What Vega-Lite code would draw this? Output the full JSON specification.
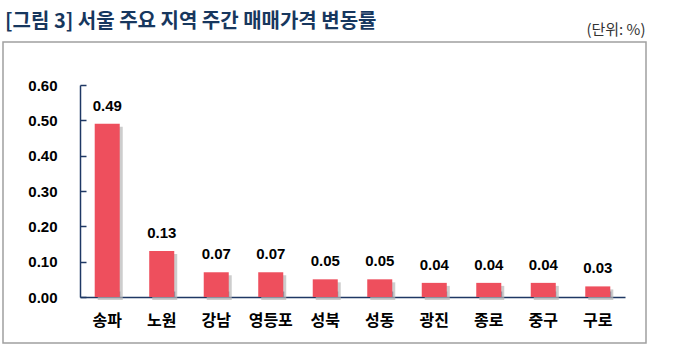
{
  "$schema": "https://vega.github.io/schema/vega-lite/v6.json",
  "autosize": {"type": "none"},
  "padding": {"left": 3, "top": 42, "right": 51, "bottom": 19},
  "width": 643,
  "height": 301,
  "background": "white",
  "config": {
    "view": {"stroke": "#a0a0a0", "strokeWidth": 1.5},
    "axis": {"grid": false}
  },
  "title": {
    "text": "[그림 3] 서울 주요 지역 주간 매매가격 변동률",
    "anchor": "start",
    "frame": "group",
    "font": "Noto Sans CJK KR",
    "fontSize": 20,
    "fontWeight": "bold",
    "color": "#17375e",
    "dx": 2,
    "dy": 10,
    "offset": 0
  },
  "data": {
    "values": [
      {"region": "송파", "value": 0.49},
      {"region": "노원", "value": 0.13},
      {"region": "강남", "value": 0.07},
      {"region": "영등포", "value": 0.07},
      {"region": "성북", "value": 0.05},
      {"region": "성동", "value": 0.05},
      {"region": "광진", "value": 0.04},
      {"region": "종로", "value": 0.04},
      {"region": "중구", "value": 0.04},
      {"region": "구로", "value": 0.03}
    ]
  },
  "encoding": {
    "x": {
      "field": "region",
      "type": "nominal",
      "sort": null,
      "axis": null,
      "scale": {"range": [77, 622], "paddingInner": 0.541, "paddingOuter": 0.27}
    },
    "y": {
      "field": "value",
      "type": "quantitative",
      "scale": {"domain": [0, 0.6], "range": [255, 43], "nice": false},
      "axis": {
        "offset": -77,
        "title": null,
        "values": [0, 0.1, 0.2, 0.3, 0.4, 0.5, 0.6],
        "format": ".2f",
        "domainColor": "#1f3864",
        "domainWidth": 1.5,
        "tickColor": "#1f3864",
        "tickWidth": 1.5,
        "tickSize": -6,
        "labelFont": "Liberation Sans",
        "labelFontSize": 15,
        "labelFontWeight": "bold",
        "labelColor": "#000000",
        "labelPadding": 29
      }
    }
  },
  "layer": [
    {
      "mark": {"type": "bar", "color": "#b8b8b8", "opacity": 0.7, "xOffset": 3, "yOffset": 3, "y2Offset": 0},
      "encoding": {
        "x": {
          "field": "region",
          "type": "nominal",
          "sort": null,
          "axis": {
            "orient": "bottom",
            "offset": -46,
            "title": null,
            "domainColor": "#1f3864",
            "domainWidth": 1.5,
            "tickColor": "#1f3864",
            "tickWidth": 1.5,
            "tickSize": -6,
            "bandPosition": 1,
            "labelAngle": 0,
            "labelFont": "Noto Sans CJK KR",
            "labelFontSize": 16,
            "labelFontWeight": "bold",
            "labelColor": "#000000",
            "labelPadding": 21
          }
        }
      }
    },
    {
      "mark": {"type": "bar", "color": "#ee4f5d"}
    },
    {
      "mark": {"type": "text", "font": "Liberation Sans", "fontSize": 15, "fontWeight": "bold", "color": "#000000", "baseline": "middle", "dy": -18},
      "encoding": {
        "text": {"field": "value", "type": "quantitative", "format": ".2f"},
        "x": {
          "field": "region",
          "type": "nominal",
          "sort": null,
          "axis": {
            "orient": "top",
            "domain": false,
            "ticks": false,
            "labels": false,
            "title": "(단위: %)",
            "titleFont": "Noto Sans CJK KR",
            "titleFontSize": 15,
            "titleFontWeight": "normal",
            "titleColor": "#333333",
            "titleAlign": "right",
            "titleBaseline": "bottom",
            "titleX": 642,
            "titleY": -5
          }
        }
      }
    }
  ],
  "resolve": {"axis": {"x": "independent"}}
}
